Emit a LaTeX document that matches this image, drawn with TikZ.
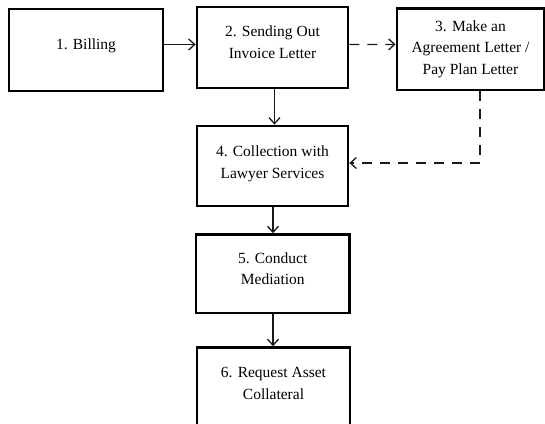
\documentclass[tikz,border=0pt]{standalone}
\usepackage{fontspec}
\setmainfont{Liberation Serif}
\usetikzlibrary{arrows.meta}
\begin{document}
\begin{tikzpicture}[x=1pt,y=1pt,
  stepbox/.style={draw=black, line width=2.8pt, rectangle, inner sep=0pt, fill=none},
  boxtext/.style={anchor=north, inner sep=0pt, align=center, text=black,
    font=\fontsize{15.5}{21.5}\selectfont},
  conn/.style={line width=1.3pt, black!90, -{Straight Barb[length=6pt,width=11pt,line width=1.3pt]}},
  dconn/.style={conn, dash pattern=on 10pt off 8pt}]
\useasboundingbox (0,0) rectangle (545,423);
% boxes
\node[stepbox, minimum width=154, minimum height=82] (b1) at (86,373) {};
\node[stepbox, minimum width=151, minimum height=81] (b2) at (272.5,375.5) {};
\node[stepbox, minimum width=147, minimum height=81.3] (b3) at (470.5,373.6) {};
\node[stepbox, minimum width=151, minimum height=80] (b4) at (272.5,257) {};
\node[stepbox, minimum width=153.5, minimum height=78.4] (b5) at (272.75,149.2) {};
\node[stepbox, minimum width=153, minimum height=80.4] (b6) at (273.5,35.2) {};
% texts
\node[boxtext] (t1) at ([yshift=-30.5]b1.north) {1. Billing};
\node[boxtext] (t2) at ([yshift=-20]b2.north) {2. Sending Out\\Invoice Letter};
\node[boxtext] (t3) at ([yshift=-13]b3.north) {3. Make an\\Agreement Letter /\\Pay Plan Letter};
\node[boxtext] (t4) at ([yshift=-21]b4.north) {4. Collection with\\Lawyer Services};
\node[boxtext] (t5) at ([yshift=-19]b5.north) {5. Conduct\\Mediation};
\node[boxtext] (t6) at ([yshift=-21]b6.north) {6. Request Asset\\Collateral};
% connectors
\draw[conn] ([yshift=5.5]b1.east) -- ([yshift=3]b2.west);
\draw[dconn] ([yshift=3]b2.east) -- ([yshift=5]b3.west);
\draw[conn] ([xshift=2]b2.south) -- ([xshift=2]b4.north);
\draw[dconn] ([xshift=9.5]b3.south) |- ([yshift=3]b4.east);
\draw[conn] ([xshift=0.5]b4.south) -- ([xshift=0.25]b5.north);
\draw[conn] ([xshift=0.25]b5.south) -- ([xshift=-0.5]b6.north);
\end{tikzpicture}
\end{document}
